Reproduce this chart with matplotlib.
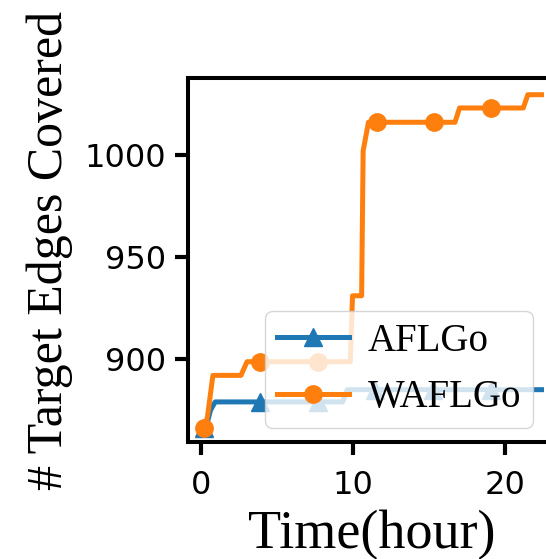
import matplotlib
matplotlib.use("Agg")
import matplotlib.pyplot as plt

# ---- data ----
aflgo_time = [0.19, 0.35, 0.6, 0.9, 3.85, 7.65, 9.3, 9.6, 11.45, 15.25, 19.05, 22.4]
aflgo_edges = [866, 868, 875, 879, 879, 879, 879, 885, 885, 885, 885, 885]
aflgo_marker_times = [0.19, 3.85, 7.65, 11.45, 15.25, 19.05]

wafl_time = [0.19, 0.4, 0.75, 2.6, 3.0, 3.85, 7.7, 9.8, 9.95, 10.55, 10.65, 11.0,
             11.55, 15.3, 16.7, 17.0, 19.05, 21.2, 21.5, 22.4]
wafl_edges = [866, 872, 892, 892, 898.7, 898.7, 898.7, 898.7, 931, 931, 1002, 1016,
              1016, 1016, 1016, 1023, 1023, 1023, 1029.5, 1029.5]
wafl_marker_times = [0.19, 3.85, 7.7, 11.55, 15.3, 19.05]

series_labels = ["AFLGo", "WAFLGo"]
x_ticks = [0, 10, 20]
y_ticks = [900, 950, 1000]

fig = plt.figure(figsize=(5.46, 5.59), dpi=100)
ax = fig.add_axes([188 / 546, 0.2098, (555 - 188) / 546, 0.6507])

blue = "#1f77b4"
orange = "#ff7f0e"

ax.plot(aflgo_time, aflgo_edges, color=blue, lw=3.6, marker="^", ms=12.5,
        markevery=[aflgo_time.index(t) for t in aflgo_marker_times],
        label=series_labels[0])
ax.plot(wafl_time, wafl_edges, color=orange, lw=3.6, marker="o", ms=12.5,
        markevery=[wafl_time.index(t) for t in wafl_marker_times],
        label=series_labels[1])

ax.set_xlim(-0.889, 23.29)
ax.set_ylim(859.5, 1037.7)
ax.set_xticks(x_ticks)
ax.set_yticks(y_ticks)

for sp in ax.spines.values():
    sp.set_linewidth(2.9)
ax.tick_params(axis="both", width=3.0, length=9.5, labelsize=23)
ax.tick_params(axis="y", pad=6.5)
ax.tick_params(axis="x", pad=11)

serif = ["Liberation Serif", "DejaVu Serif"]
ax.set_xlabel("Time(hour)", fontsize=39, family=serif, labelpad=6)
ax.set_ylabel("# Target Edges Covered", fontsize=36, family=serif)
ax.yaxis.set_label_coords((73 - 188) / 367, (441.7 - 250) / 363.7)

leg = ax.legend(loc="lower left", bbox_to_anchor=(265 / 546, 1 - 428 / 559),
                bbox_transform=fig.transFigure, borderaxespad=0,
                prop={"family": serif, "size": 28}, framealpha=0.8,
                borderpad=0.3, labelspacing=0.5, handlelength=1.85,
                handletextpad=0.5)

fig.savefig("out.png", dpi=100)
